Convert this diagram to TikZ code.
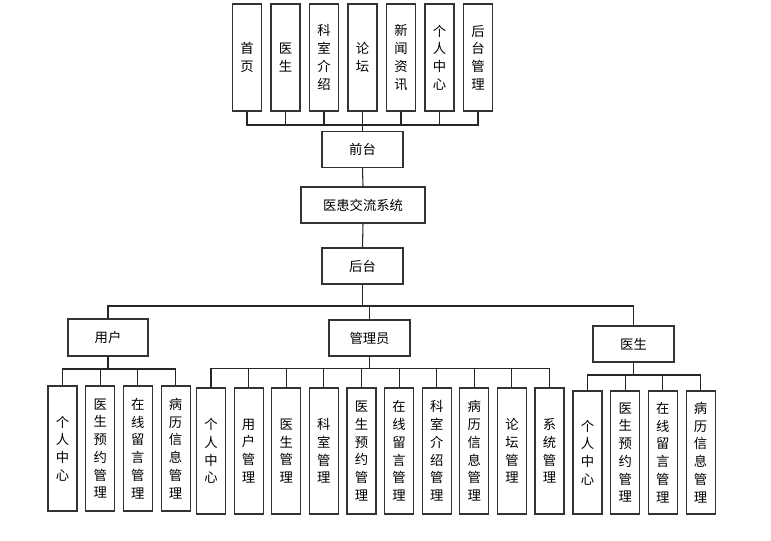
\documentclass[tikz,border=0pt]{standalone}
\usepackage{fontspec}
\newfontfamily\cjk{Noto Sans CJK SC}
\usepackage{xcolor}
\begin{document}
\begin{tikzpicture}[x=0.75pt,y=-0.75pt,
  box/.style={draw=black!80,line width=0.9pt,fill=white,inner sep=0pt,align=center,
    font=\cjk\fontsize{10}{13.3}\selectfont},
  hbox/.style={box,minimum width=60.75pt,minimum height=27pt},
  vbox/.style={box,minimum width=21.75pt},
  link/.style={draw=black!85,line width=0.8pt}]
  \useasboundingbox (0,0) rectangle (771,540);
  % front row
  \foreach \name/\x/\txt in {t1/247/{首\\页},t2/285.5/{医\\生},t3/324/{科\\室\\介\\绍},
      t4/362.5/{论\\坛},t5/401/{新\\闻\\资\\讯},t6/439.5/{个\\人\\中\\心},t7/478/{后\\台\\管\\理}}
    \node[vbox,minimum height=80.25pt] (\name) at (\x,57.5) {\txt};
  \node[hbox] (qt) at (362.5,149.5) {前台};
  \node[hbox,minimum width=93pt] (sys) at (363,205) {医患交流系统};
  \node[hbox] (ht) at (362.5,266) {后台};
  \coordinate (qtb) at (362.5,125);
  \foreach \i in {1,...,7} \draw[link] (t\i.south) |- (qtb);
  \draw[link] (qtb) -- (qt.north);
  \draw[link] (qt.south) -- (sys.north);
  \draw[link] (sys.south) -- (ht.north);
  % back roles
  \node[hbox,minimum width=60pt,minimum height=27.75pt] (yh) at (108,337.5) {用户};
  \node[hbox] (gly) at (369.5,338) {管理员};
  \node[hbox] (ys) at (633.5,344) {医生};
  \coordinate (mb) at (362.5,306);
  \draw[link] (ht.south) -- (mb);
  \draw[link] (yh.north) |- (mb) -| (ys.north);
  \draw[link] (gly.north) |- (mb);
  % user items
  \foreach \i/\txt [count=\k from 0] in {1/{个\\人\\中\\心},2/{医\\生\\预\\约\\管\\理},
      3/{在\\线\\留\\言\\管\\理},4/{病\\历\\信\\息\\管\\理}}
    \node[vbox,minimum height=93.75pt] (yh\i) at (62.5+37.7*\k,448.5) {\txt};
  \coordinate (yhb) at (108,369);
  \draw[link] (yh.south) -- (yhb);
  \foreach \i in {1,...,4} \draw[link] (yhb) -| (yh\i.north);
  % admin items
  \foreach \i/\txt [count=\k from 0] in {1/{个\\人\\中\\心},2/{用\\户\\管\\理},3/{医\\生\\管\\理},
      4/{科\\室\\管\\理},5/{医\\生\\预\\约\\管\\理},6/{在\\线\\留\\言\\管\\理},
      7/{科\\室\\介\\绍\\管\\理},8/{病\\历\\信\\息\\管\\理},9/{论\\坛\\管\\理},10/{系\\统\\管\\理}}
    \node[vbox,minimum height=94.5pt] (gly\i) at (211+37.62*\k,451) {\txt};
  \coordinate (glyb) at (369.5,368.5);
  \draw[link] (gly.south) -- (glyb);
  \foreach \i in {1,...,10} \draw[link] (glyb) -| (gly\i.north);
  % doctor items
  \foreach \i/\txt [count=\k from 0] in {1/{个\\人\\中\\心},2/{医\\生\\预\\约\\管\\理},
      3/{在\\线\\留\\言\\管\\理},4/{病\\历\\信\\息\\管\\理}}
    \node[vbox,minimum height=92.25pt] (ys\i) at (587.5+37.7*\k,452.5) {\txt};
  \coordinate (ysb) at (633.5,375);
  \draw[link] (ys.south) -- (ysb);
  \foreach \i in {1,...,4} \draw[link] (ysb) -| (ys\i.north);
\end{tikzpicture}
\end{document}
